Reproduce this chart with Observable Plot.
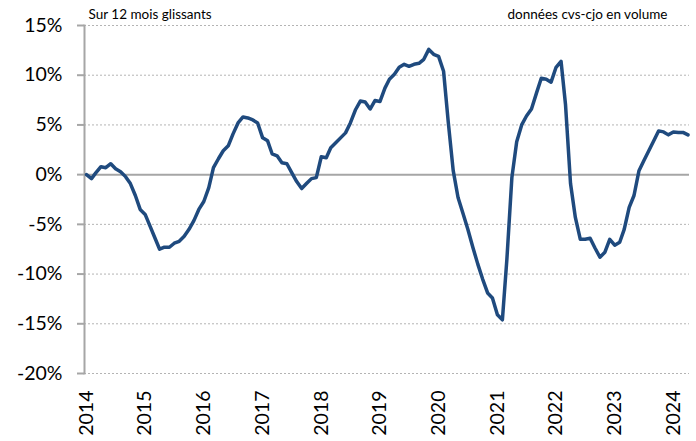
<!DOCTYPE html>
<html><head><meta charset="utf-8">
<script src="https://cdn.jsdelivr.net/npm/d3@7"></script>
<script src="https://cdn.jsdelivr.net/npm/@observablehq/plot@0.6"></script>
<style>body{margin:0;background:#fff}</style>
</head><body><div id="chart"></div>
<script>
// Monthly values, % change over 12 rolling months, starting January 2014
const startYear = 2014;
const values = [
  // 2014
  0.0, -0.4, 0.2, 0.8, 0.7, 1.1, 0.6, 0.3, -0.2, -0.9, -2.1, -3.5,
  // 2015
  -4.0, -5.2, -6.3, -7.5, -7.3, -7.3, -6.9, -6.7, -6.2, -5.5, -4.6, -3.5,
  // 2016
  -2.7, -1.3, 0.7, 1.6, 2.4, 2.9, 4.1, 5.2, 5.8, 5.7, 5.5, 5.2,
  // 2017
  3.7, 3.4, 2.1, 1.9, 1.2, 1.1, 0.2, -0.7, -1.4, -0.9, -0.4, -0.3,
  // 2018
  1.8, 1.7, 2.7, 3.2, 3.7, 4.2, 5.2, 6.5, 7.4, 7.3, 6.6, 7.45,
  // 2019
  7.35, 8.7, 9.6, 10.1, 10.8, 11.1, 10.9, 11.1, 11.2, 11.6, 12.6, 12.1,
  // 2020
  11.9, 10.4, 5.3, 0.4, -2.3, -3.9, -5.5, -7.3, -9.0, -10.5, -11.9, -12.4,
  // 2021
  -14.1, -14.6, -8.5, -0.3, 3.3, 5.0, 5.9, 6.6, 8.2, 9.7, 9.6, 9.3,
  // 2022
  10.8, 11.4, 7.0, -0.9, -4.3, -6.5, -6.5, -6.4, -7.4, -8.3, -7.8, -6.5,
  // 2023
  -7.1, -6.8, -5.5, -3.3, -2.1, 0.4, 1.4, 2.4, 3.4, 4.4, 4.3, 4.0,
  // 2024
  4.3, 4.25, 4.25, 4.0
];
const yTicks = [-20, -15, -10, -5, 0, 5, 10, 15];
const yearTicks = [2014, 2015, 2016, 2017, 2018, 2019, 2020, 2021, 2022, 2023, 2024];
const noteLeft = "Sur 12 mois glissants";
const noteRight = "données cvs-cjo en volume";

const data = values.map((v, i) => ({date: new Date(Date.UTC(startYear, i, 1)), value: v}));
const lastDate = data[data.length - 1].date;

const chart = Plot.plot({
  width: 696, height: 441,
  marginLeft: 84, marginRight: 7, marginTop: 25, marginBottom: 68,
  style: {fontFamily: "Lato, 'Liberation Sans', sans-serif", background: "#fff", color: "#000"},
  x: {type: "utc", domain: [data[0].date, lastDate], insetLeft: 2, insetRight: 1.5},
  y: {domain: [-20, 15]},
  marks: [
    Plot.ruleY(yTicks.filter(d => d !== 0), {stroke: "#b4b4b4", strokeDasharray: "2,2", strokeWidth: 1}),
    Plot.ruleY([0], {stroke: "#a6a6a6", strokeWidth: 2}),
    Plot.frame({anchor: "left", stroke: "#a6a6a6", strokeWidth: 2}),
    Plot.axisY({ticks: yTicks, tickFormat: d => `${d}%`, tickSize: 7, tickPadding: 15, label: null,
      fontSize: 19.5, stroke: "#a6a6a6", fill: "#000", strokeWidth: 2}),
    Plot.axisX({ticks: yearTicks.map(y => new Date(Date.UTC(y, 0, 1))), tickFormat: d => String(d.getUTCFullYear()),
      tickRotate: -90, tickSize: 0, tickPadding: 17, fontSize: 19.5, fill: "#000", label: null}),
    Plot.line(data, {x: "date", y: "value", stroke: "#1f4a7e", strokeWidth: 3.5, strokeLinejoin: "round"}),
    Plot.text([noteLeft], {frameAnchor: "top-left", dx: 4, dy: -11, fontSize: 13.5, textAnchor: "start", lineAnchor: "middle", fill: "#000"}),
    Plot.text([noteRight], {frameAnchor: "top-right", dx: -22, dy: -11, fontSize: 13.5, textAnchor: "end", lineAnchor: "middle", fill: "#000"})
  ]
});
document.getElementById("chart").appendChild(chart);
</script>
</body></html>
